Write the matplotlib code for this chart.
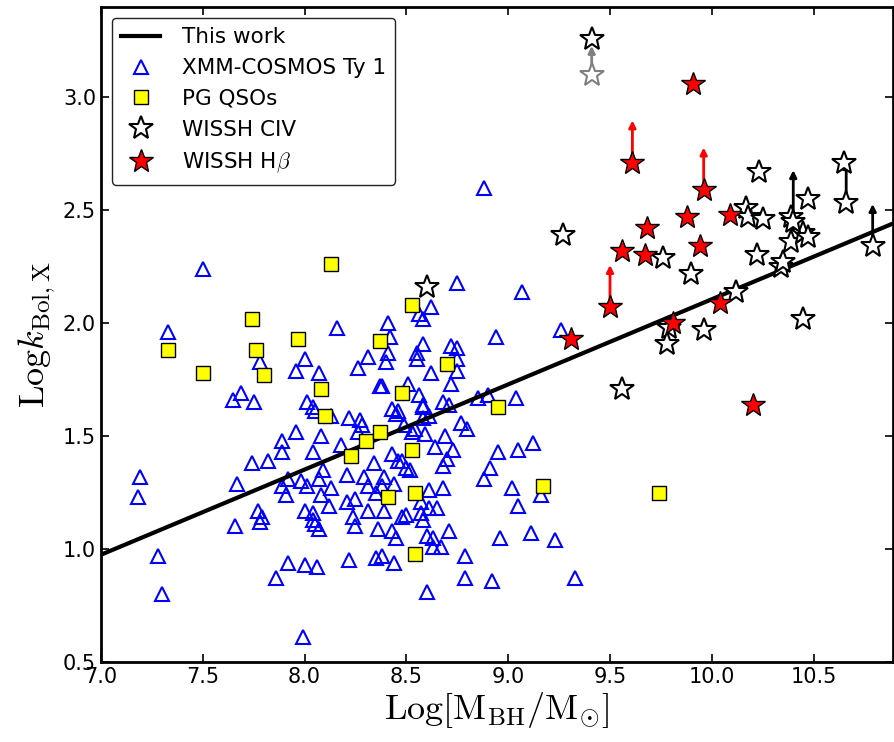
import matplotlib
import matplotlib.pyplot as plt
import numpy as np

matplotlib.use("Agg")

# XMM-COSMOS type 1 AGN
cosmos_mbh = [7.19, 7.18, 7.28, 7.30, 7.33, 7.50, 7.65, 7.69, 7.75, 7.78, 7.67, 7.66, 7.74, 7.82,
              7.77, 7.78, 7.79, 7.89, 7.89, 7.96, 8.08, 8.04, 7.92, 7.89, 7.91, 7.98, 8.01, 8.00,
              8.04, 8.04, 8.05, 8.07, 8.07, 8.09, 8.08, 8.13, 8.12, 7.92, 7.86, 8.00, 8.06, 8.22,
              8.35, 8.38, 8.44, 7.99, 8.21, 8.29, 8.31, 8.21, 8.25, 8.24, 8.25, 8.31, 8.35, 8.39,
              8.38, 8.36, 8.39, 8.43, 8.45, 8.43, 8.34, 8.18, 8.26, 8.44, 8.46,
              9.12, 9.05, 8.95, 8.91, 8.88, 9.02, 9.05, 9.16, 8.96, 9.11, 9.23, 9.33, 8.79, 8.79,
              8.92, 8.60, 8.70, 8.68, 8.73, 8.64, 8.69, 8.59, 8.61, 8.68, 8.57, 8.61, 8.65, 8.57,
              8.50, 8.48, 8.58, 8.60, 8.63, 8.63, 8.67, 8.71, 8.48, 8.50, 8.52, 8.53, 8.80,
              8.75, 9.07, 8.62, 8.56, 8.58, 8.41, 8.16, 8.42, 8.41, 8.40, 8.31, 8.26, 8.58, 8.55,
              8.55, 8.72, 8.75, 8.75, 8.75, 8.62, 8.72, 8.94, 9.26, 9.04, 8.85, 8.90, 8.37, 8.38,
              8.51, 8.56, 8.58, 8.68, 8.71, 8.01, 8.07, 8.00, 7.96, 8.04, 8.05, 8.22, 8.27, 8.28,
              8.43, 8.46, 8.45, 8.58, 8.58, 8.61, 8.77, 8.54, 8.49, 8.13, 8.88]
cosmos_kbol = [1.32, 1.23, 0.97, 0.80, 1.96, 2.24, 1.66, 1.69, 1.65, 1.83, 1.29, 1.10, 1.38, 1.39,
               1.17, 1.12, 1.14, 1.48, 1.43, 1.52, 1.50, 1.43, 1.31, 1.28, 1.24, 1.30, 1.28, 1.17,
               1.16, 1.13, 1.11, 1.09, 1.31, 1.35, 1.24, 1.27, 1.19, 0.94, 0.87, 0.93, 0.92, 0.95,
               0.96, 0.97, 0.94, 0.61, 1.33, 1.32, 1.28, 1.21, 1.22, 1.14, 1.10, 1.17, 1.25, 1.32,
               1.28, 1.09, 1.17, 1.08, 1.05, 1.42, 1.38, 1.46, 1.52, 1.29, 1.39,
               1.47, 1.44, 1.43, 1.36, 1.31, 1.27, 1.19, 1.24, 1.05, 1.07, 1.04, 0.87, 0.97, 0.87,
               0.86, 0.81, 1.40, 1.37, 1.44, 1.45, 1.50, 1.51, 1.26, 1.27, 1.21, 1.18, 1.18, 1.16,
               1.15, 1.14, 1.13, 1.06, 1.05, 1.01, 1.01, 1.08, 1.39, 1.36, 1.35, 1.52, 1.53,
               2.18, 2.14, 2.07, 2.04, 2.02, 2.00, 1.98, 1.94, 1.87, 1.83, 1.85, 1.80, 1.91, 1.87,
               1.84, 1.90, 1.89, 1.84, 1.79, 1.78, 1.73, 1.94, 1.97, 1.67, 1.67, 1.68, 1.72, 1.72,
               1.73, 1.68, 1.64, 1.65, 1.64, 1.65, 1.78, 1.84, 1.79, 1.63, 1.61, 1.58, 1.57, 1.55,
               1.62, 1.61, 1.60, 1.63, 1.58, 1.59, 1.56, 1.53, 1.55, 1.59, 2.60]

# PG QSOs
pg_mbh = [7.33, 7.50, 7.74, 7.76, 7.80, 7.97, 8.08, 8.10, 8.13, 8.23, 8.30, 8.37, 8.37, 8.41,
          8.48, 8.53, 8.53, 8.54, 8.54, 8.70, 8.95, 9.17, 9.74]
pg_kbol = [1.88, 1.78, 2.02, 1.88, 1.77, 1.93, 1.71, 1.59, 2.26, 1.41, 1.48, 1.52, 1.92, 1.23,
           1.69, 1.44, 2.08, 1.25, 0.98, 1.82, 1.63, 1.28, 1.25]

# WISSH CIV-based masses
civ_mbh = [8.60, 9.27, 9.56, 9.76, 9.79, 9.78, 9.90, 9.96, 10.12, 10.17, 10.18, 10.23, 10.25,
           10.22, 10.34, 10.35, 10.39, 10.39, 10.45, 10.47, 10.47, 10.45, 10.65, 9.41]
civ_kbol = [2.16, 2.39, 1.71, 2.29, 1.98, 1.91, 2.22, 1.97, 2.14, 2.51, 2.47, 2.67, 2.46,
            2.30, 2.25, 2.27, 2.47, 2.36, 2.40, 2.38, 2.55, 2.02, 2.71, 3.26]
# CIV lower limits (start, arrow tip)
civ_lim_mbh = [10.40, 10.66, 10.79]
civ_lim_kbol = [2.45, 2.53, 2.34]
civ_lim_top = [2.69, 2.73, 2.54]
# grey point moved to the black one
grey_mbh = [9.41]
grey_kbol = [3.10]
grey_top = [3.24]

# WISSH Hbeta-based masses
hb_mbh = [9.91, 9.68, 9.88, 10.09, 9.56, 9.67, 9.94, 10.04, 9.81, 9.31, 10.20]
hb_kbol = [3.06, 2.42, 2.47, 2.48, 2.32, 2.30, 2.34, 2.09, 2.00, 1.93, 1.64]
hb_lim_mbh = [9.61, 9.96, 9.50]
hb_lim_kbol = [2.71, 2.59, 2.07]
hb_lim_top = [2.91, 2.79, 2.27]

# this work: log k = slope * (log M - 9) + norm
fit_slope = 0.377
fit_norm = 1.729

plt.rcParams['mathtext.fontset'] = 'cm'

fig = plt.figure(figsize=(8.95, 7.42), dpi=100)
ax = fig.add_axes([0.1128, 0.1078, 0.885, 0.8828])

xfit = np.array([7.0, 10.89])
ax.plot(xfit, fit_slope * (xfit - 9) + fit_norm, color='black', lw=3, zorder=2, label='This work')

ax.plot(cosmos_mbh, cosmos_kbol, ls='none', marker='^', ms=10, mfc='none', mec='blue',
        mew=1.5, zorder=1, label='XMM-COSMOS Ty 1')
ax.plot(pg_mbh, pg_kbol, ls='none', marker='s', ms=10, mfc='yellow', mec='black',
        mew=1, zorder=3, label='PG QSOs')

# arrows
for x, y0, y1 in zip(grey_mbh, grey_kbol, grey_top):
    ax.annotate('', xy=(x, y1), xytext=(x, y0),
                arrowprops=dict(arrowstyle='-|>', color='grey', lw=2, mutation_scale=10), zorder=3)
ax.plot(grey_mbh, grey_kbol, ls='none', marker='*', ms=18, mfc='white', mec='grey', mew=1.5, zorder=4)
for x, y0, y1 in zip(civ_lim_mbh, civ_lim_kbol, civ_lim_top):
    ax.annotate('', xy=(x, y1), xytext=(x, y0),
                arrowprops=dict(arrowstyle='-|>', color='black', lw=2, mutation_scale=10), zorder=3)
for x, y0, y1 in zip(hb_lim_mbh, hb_lim_kbol, hb_lim_top):
    ax.annotate('', xy=(x, y1), xytext=(x, y0),
                arrowprops=dict(arrowstyle='-|>', color='red', lw=2, mutation_scale=10), zorder=3)

ax.plot(civ_mbh + civ_lim_mbh, civ_kbol + civ_lim_kbol, ls='none', marker='*', ms=18,
        mfc='white', mec='black', mew=1.5, zorder=4, label='WISSH CIV')
ax.plot(hb_mbh + hb_lim_mbh, hb_kbol + hb_lim_kbol, ls='none', marker='*', ms=18,
        mfc='red', mec='black', mew=1, zorder=5, label=r'WISSH H$\beta$')

ax.set_xlim(7.0, 10.89)
ax.set_ylim(0.5, 3.4)
ax.set_xticks([7.0, 7.5, 8.0, 8.5, 9.0, 9.5, 10.0, 10.5])
ax.set_yticks([0.5, 1.0, 1.5, 2.0, 2.5, 3.0])
ax.tick_params(direction='in', top=True, right=True, length=6, width=1.2, labelsize=15)
for sp in ax.spines.values():
    sp.set_linewidth(2)

ax.set_xlabel(r'$\mathrm{Log[M_{BH}/M_{\odot}]}$', fontsize=26, labelpad=2)
ax.set_ylabel(r'$\mathrm{Log}k_{\mathrm{Bol,X}}$', fontsize=26, labelpad=4)

leg = ax.legend(loc='upper left', numpoints=1, fontsize=15.5, handlelength=1.8,
                handletextpad=1.0, borderpad=0.45, fancybox=True, framealpha=1,
                edgecolor='#222222', borderaxespad=0.5, labelspacing=0.5)
leg.get_frame().set_linewidth(1)

fig.savefig('out.png', dpi=100)
